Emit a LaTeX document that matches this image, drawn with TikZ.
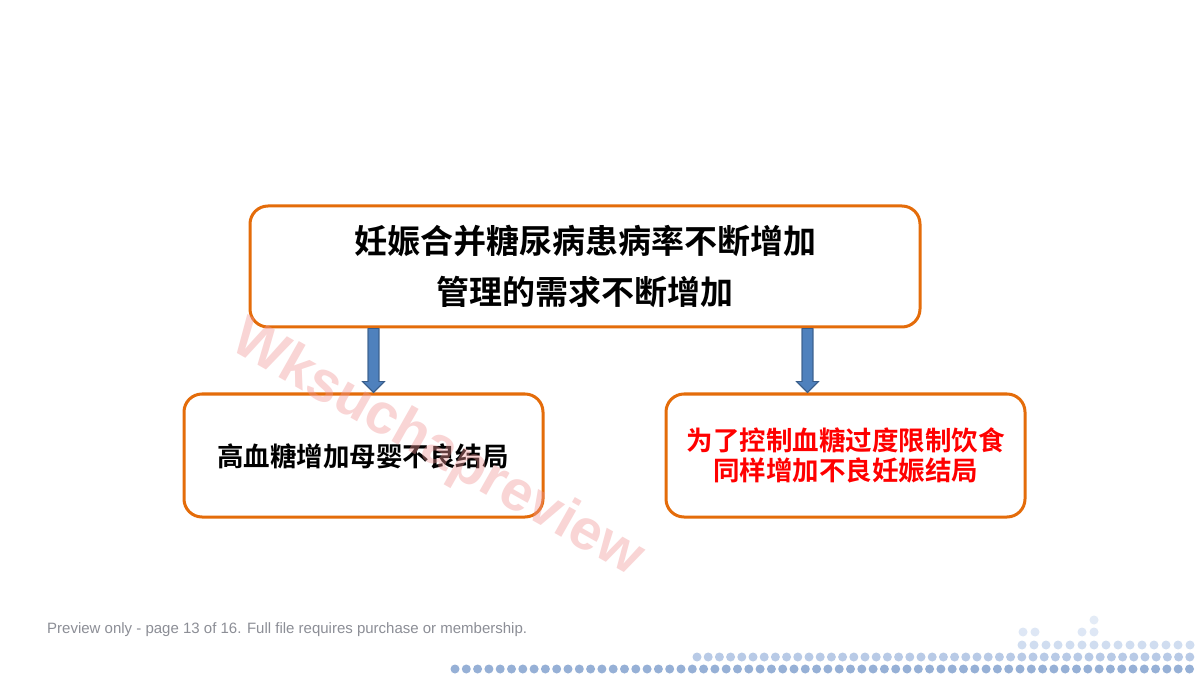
\documentclass[tikz,border=0pt]{standalone}
\usepackage{fontspec}
\setmainfont{Liberation Sans}
\newfontfamily\cjk{Noto Sans CJK SC}[BoldFont={Noto Sans CJK SC Bold}]
\usetikzlibrary{calc}
\definecolor{boxorange}{RGB}{228,108,10}
\definecolor{arrowblue}{RGB}{79,129,189}
\definecolor{arrowedge}{RGB}{56,93,138}
\definecolor{txtred}{RGB}{255,0,0}
\definecolor{footgray}{RGB}{140,142,150}
\definecolor{dotA}{RGB}{150,176,214}
\definecolor{dotB}{RGB}{184,202,230}
\definecolor{dotC}{RGB}{208,221,240}
\definecolor{wmark}{RGB}{240,150,150}
\tikzset{
  mainbox/.style={draw=boxorange, line width=3pt, rounded corners=18pt, fill=white, inner sep=0pt, align=center},
  blockarrow/.style={fill=arrowblue, draw=arrowedge, line width=0.8pt},
}
\begin{document}
\begin{tikzpicture}[x=1pt,y=-1pt]
\useasboundingbox (0,0) rectangle (1200,676);
\fill[white] (0,0) rectangle (1200,676);

% boxes
\node[mainbox, minimum width=670pt, minimum height=121pt] (top) at (585,266.5) {};
\node[mainbox, minimum width=359pt, minimum height=123pt] (left) at (363.5,455.5) {};
\node[mainbox, minimum width=359pt, minimum height=123pt] (right) at (845.5,455.5) {};

% arrows
\foreach \b/\xx in {left/373.5, right/807.5}{
  \coordinate (s\b) at (\xx,0 |- top.south);
  \coordinate (t\b) at (\xx,0 |- \b.north);
  \fill[blockarrow] ($(s\b)+(-5.5,0)$) -- ($(t\b)+(-5.5,-11)$) -- ($(t\b)+(-11,-11)$) -- (t\b)
     -- ($(t\b)+(11,-11)$) -- ($(t\b)+(5.5,-11)$) -- ($(s\b)+(5.5,0)$) -- cycle;
  \draw[arrowedge, line width=0.8pt] ($(s\b)+(-5.5,0)$) -- ($(t\b)+(-5.5,-11)$) -- ($(t\b)+(-11,-11)$) -- (t\b)
     -- ($(t\b)+(11,-11)$) -- ($(t\b)+(5.5,-11)$) -- ($(s\b)+(5.5,0)$);
}

% texts
\node[font={\cjk\bfseries\fontsize{33}{51}\selectfont}, align=center] (toptext) at (top.center) {妊娠合并糖尿病患病率不断增加\\管理的需求不断增加};
\node[font={\cjk\bfseries\fontsize{26.5}{30}\selectfont}] (lefttext) at (363,456) {高血糖增加母婴不良结局};
\node[font={\cjk\bfseries\fontsize{26.5}{30}\selectfont}, text=txtred, align=center] (righttext) at (845.5,455) {为了控制血糖过度限制饮食\\同样增加不良妊娠结局};

% watermark
\node[font={\bfseries\fontsize{57}{57}\selectfont}, text=wmark, opacity=0.4, rotate=-29.5] (wm) at (437,450) {Wksuchapreview};

% footer
\node[font={\fontsize{15}{18}\selectfont}, text=footgray, anchor=west, inner sep=0pt] (foot) at (47,630) {Preview only - page 13 of 16. Full file requires purchase or membership.};

% decorative dots
\foreach \i in {0,...,65}{
  \fill[dotA] (455+\i*11.3,669) circle (4.5);
}
\foreach \i in {0,...,44}{
  \fill[dotB] (697+\i*11.2,657) circle (4.5);
}
\foreach \i in {0,...,14}{
  \fill[dotC] (1022+\i*12,645) circle (4.5);
}
\foreach \xx in {1023,1035,1082,1094}{
  \fill[dotC!70!white] (\xx,632) circle (4.5);
}
\fill[dotC!60!white] (1094,620) circle (4.5);
\end{tikzpicture}
\end{document}
